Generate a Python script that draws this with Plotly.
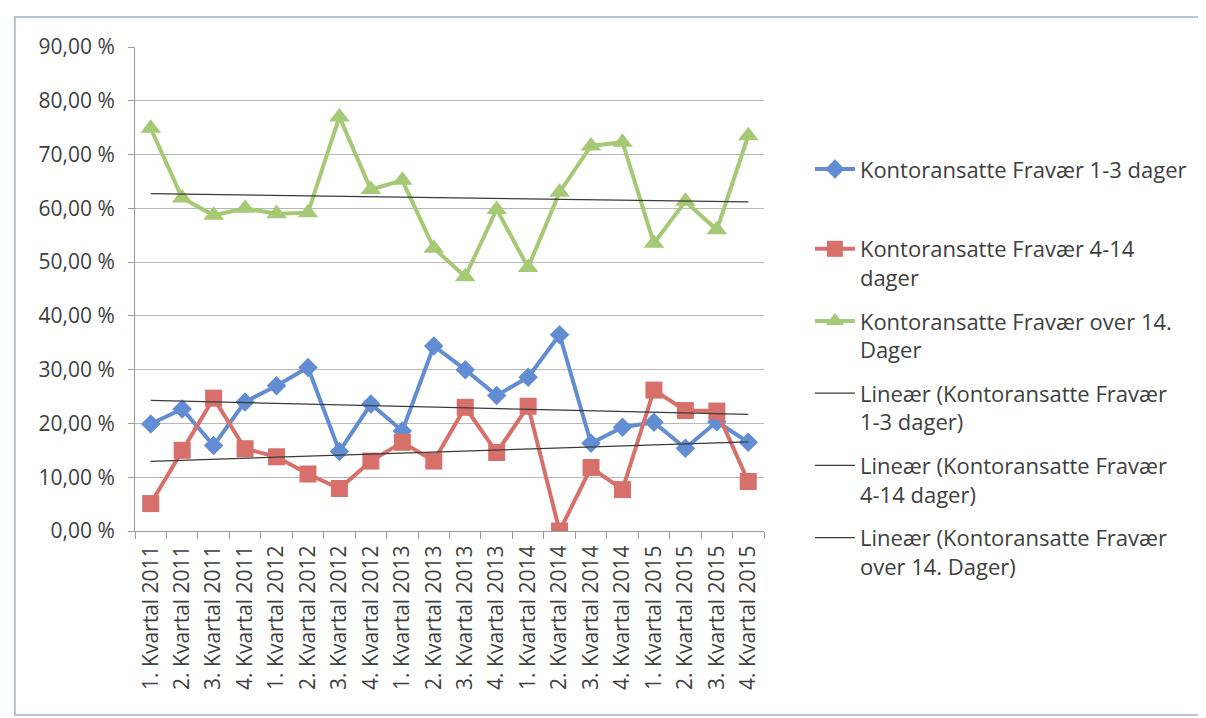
import numpy as np
import plotly.graph_objects as go

categories = [
    "1. Kvartal 2011", "2. Kvartal 2011", "3. Kvartal 2011", "4. Kvartal 2011",
    "1. Kvartal 2012", "2. Kvartal 2012", "3. Kvartal 2012", "4. Kvartal 2012",
    "1. Kvartal 2013", "2. Kvartal 2013", "3. Kvartal 2013", "4. Kvartal 2013",
    "1. Kvartal 2014", "2. Kvartal 2014", "3. Kvartal 2014", "4. Kvartal 2014",
    "1. Kvartal 2015", "2. Kvartal 2015", "3. Kvartal 2015", "4. Kvartal 2015",
]

fravaer_1_3 = [19.9, 22.7, 15.9, 24.0, 27.0, 30.4, 14.8, 23.6, 18.6, 34.4,
               30.0, 25.2, 28.6, 36.5, 16.3, 19.3, 20.2, 15.4, 20.3, 16.5]
fravaer_4_14 = [5.1, 15.0, 24.7, 15.3, 13.8, 10.6, 7.9, 13.0, 16.5, 13.0,
                23.0, 14.6, 23.2, 0.0, 11.8, 7.7, 26.2, 22.4, 22.3, 9.2]
fravaer_over_14 = [74.9, 61.9, 58.7, 60.0, 59.0, 59.2, 77.0, 63.5, 65.2, 52.6,
                   47.3, 59.8, 49.0, 63.0, 71.6, 72.3, 53.5, 61.3, 56.0, 73.5]

names = [
    "Kontoransatte Fravær 1-3 dager",
    "Kontoransatte Fravær 4-14<br>dager",
    "Kontoransatte Fravær over 14.<br>Dager",
    "Lineær (Kontoransatte Fravær<br>1-3 dager)",
    "Lineær (Kontoransatte Fravær<br>4-14 dager)",
    "Lineær (Kontoransatte Fravær<br>over 14. Dager)",
]

series = [fravaer_1_3, fravaer_4_14, fravaer_over_14]
colors = ["#628dd2", "#d7706b", "#a5c974"]
symbols = ["diamond", "square", "triangle-up"]
msizes = [15, 17, 18]

FONT = "'Open Sans', 'Noto Sans', sans-serif"

fig = go.Figure()
for i, (vals, col, sym, ms) in enumerate(zip(series, colors, symbols, msizes)):
    fig.add_trace(go.Scatter(
        x=categories, y=vals, name=names[i], mode="lines+markers",
        line=dict(color=col, width=4),
        marker=dict(symbol=sym, size=ms, color=col),
        legendgroup=f"g{i}", legendrank=i + 1,
        legend="legend" if i == 0 else "legend2",
    ))

idx = np.arange(len(categories))
for i, vals in enumerate(series):
    k, m = np.polyfit(idx, np.array(vals), 1)
    trend = k * idx + m
    fig.add_trace(go.Scatter(
        x=categories, y=trend, name=names[3 + i], mode="lines",
        line=dict(color="#3a3a3a", width=1.2),
        legendgroup=f"t{i}", legendrank=4 + i, legend="legend2",
    ))

legend_common = dict(
    x=1.073, xanchor="left", yanchor="top",
    font=dict(family=FONT, size=22, color="#404040"),
    tracegroupgap=12, valign="top", traceorder="grouped",
    bgcolor="rgba(0,0,0,0)", itemwidth=40,
)

fig.update_layout(
    width=1198, height=710,
    margin=dict(l=127, r=442, t=39, b=187),
    paper_bgcolor="white", plot_bgcolor="white",
    separators=", ",
    font=dict(family=FONT, size=21, color="#404040"),
    showlegend=True,
    legend=dict(y=0.791, **legend_common),
    legend2=dict(y=0.626, **legend_common),
    xaxis=dict(
        type="category", tickangle=-90, range=[-0.5, 19.5],
        showline=True, linecolor="#9a9a9a", linewidth=1,
        ticks="outside", tickson="boundaries", ticklen=7, tickcolor="#9a9a9a",
        showgrid=False, zeroline=False, ticklabelstandoff=5,
        tickfont=dict(family=FONT, size=21, color="#404040"),
    ),
    yaxis=dict(
        range=[0, 90], dtick=10, tickformat=".2f", ticksuffix=" %",
        showline=True, linecolor="#9a9a9a", linewidth=1,
        showgrid=True, gridcolor="#b8b8b8", gridwidth=1,
        ticks="outside", ticklen=6, tickcolor="#9a9a9a",
        zeroline=False, ticklabelstandoff=9,
        tickfont=dict(family=FONT, size=21, color="#404040"),
    ),
    shapes=[dict(
        type="rect", xref="paper", yref="paper",
        x0=-0.191, x1=1.75, y0=-0.380, y1=1.062,
        line=dict(color="#9fb3c0", width=1.5), layer="below",
    )],
)

fig.write_html("out.html")
